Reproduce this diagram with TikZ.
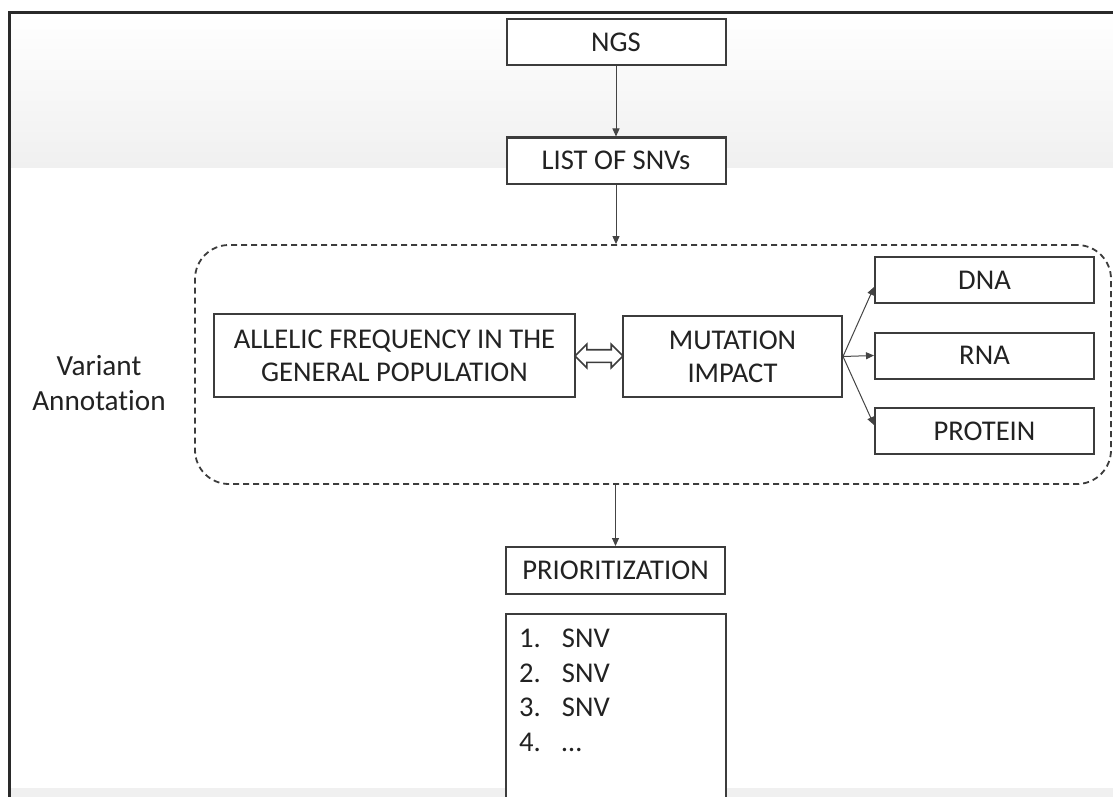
\documentclass[tikz,border=0pt]{standalone}
\usepackage{fontspec}
\setmainfont{Carlito}[Ligatures = NoCommon]
\usepackage{xcolor}
\usetikzlibrary{calc, arrows.meta, shapes.arrows}

\definecolor{boxgray}{HTML}{3C3C3C}
\definecolor{linegray}{HTML}{444444}
\definecolor{txtgray}{HTML}{222222}
\definecolor{framegray}{HTML}{2A2A2A}
\definecolor{bandgray}{HTML}{F0F0F0}

\tikzset{
	box/.style = {draw = boxgray, line width = 1pt, fill = white, inner sep = 0pt,
		minimum width = 109.5pt, minimum height = 23pt},
	annot/.style = {draw = boxgray, line width = 0.9pt, dash pattern = on 3pt off 2pt,
		rounded corners = 17pt, minimum width = 458pt, minimum height = 119.5pt}
}

\begin{document}
\begin{tikzpicture}[x = 0.5pt, y = -0.5pt, font = \fontsize{14.3}{16.5}\selectfont, text = txtgray]
			\def\num{21.5pt};
			\def\lw{97pt};

			\useasboundingbox (0,0) rectangle (1113,797);
			\shade[top color = white, bottom color = bandgray] (9,13) rectangle (1113,167);
			\fill[bandgray] (9,788) rectangle (1113,797);
			\draw[framegray, line width = 1.5pt] (9,797) -- (9,13) -- (1113,13);

			\node[box] (ngs) at (616,42) {NGS};
			\node[box] (snvs) at (616,160.5) {LIST OF SNVs};

			\node[annot] (annot) at (653,364.5) {};
			\node[align = center, font = \fontsize{14.6}{17.5}\selectfont] (variant) at (99,383) {Variant\\Annotation};

			\node[box, minimum width = 180.5pt, minimum height = 41.5pt, align = center]
				(allele) at (394.5,355.5) {ALLELIC FREQUENCY IN THE\\GENERAL POPULATION};
			\node[box, minimum height = 40.5pt, align = center]
				(impact) at (732.5,356.5) {MUTATION\\IMPACT};
			\node[double arrow, draw = boxgray, line width = 0.8pt, fill = white,
				inner xsep = 0pt, inner ysep = 2.75pt, minimum height = 24pt,
				double arrow head extend = 2.75pt]
				(swap) at ($(allele.east)!0.5!(impact.west)$) {};

			\node[box] (dna) at (984.5,280) {DNA};
			\node[box] (rna) at (984.5,355.5) {RNA};
			\node[box] (protein) at (984.5,431) {PROTEIN};

			\node[box, minimum height = 23.5pt] (prio) at (615.5,570.5) {PRIORITIZATION};
			\node[box, anchor = north, minimum width = 110pt, inner xsep = 6.5pt, inner ysep = 7.5pt,
				text width = \lw, align = left, font = \fontsize{14.3}{17.3}\selectfont]
				(ranked) at (616,613)
				{\makebox[\num][l]{1.}SNV\\\makebox[\num][l]{2.}SNV\\\makebox[\num][l]{3.}SNV\\
				 \makebox[\num][l]{4.}…\\\mbox{}\\\mbox{}};

			\begin{scope}[-{Triangle[length = 4pt, width = 3.5pt]}, draw = linegray, line width = 0.5pt]
				\draw (ngs) -- (snvs);
				\draw (snvs) -- (snvs |- annot.north);
				\draw (prio |- annot.south) -- (prio);
				\draw (impact.east) -- ([yshift = -3.5pt]dna.west);
				\draw (impact.east) -- (rna.west);
				\draw (impact.east) -- ([yshift = 3pt]protein.west);
			\end{scope}
		\end{tikzpicture}
\end{document}
